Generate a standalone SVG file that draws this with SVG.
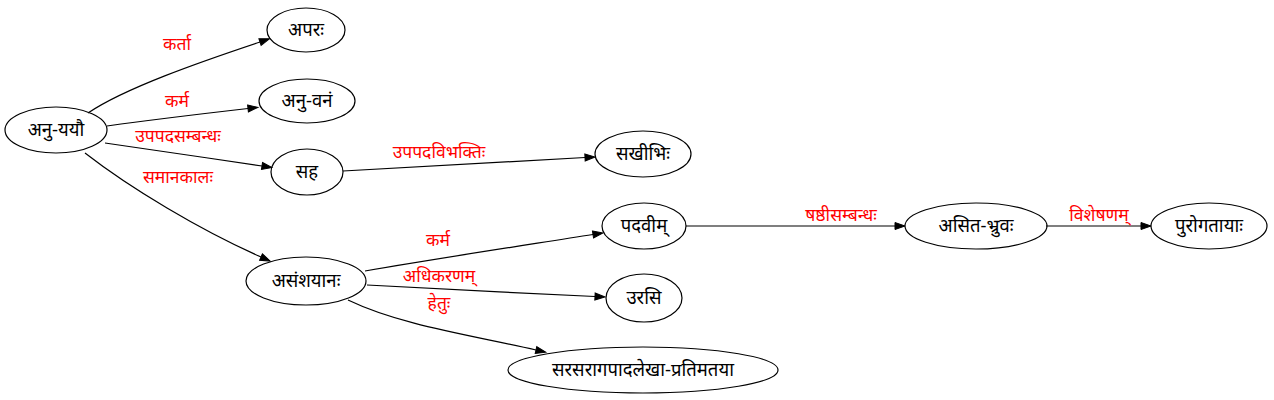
<svg xmlns="http://www.w3.org/2000/svg" width="1274" height="400" viewBox="0 0 1274 400">
<style>
.node ellipse{fill:none;stroke:#000;stroke-width:1.2}
.node text{font-family:"Noto Sans","DejaVu Sans",sans-serif;font-size:18.5px;fill:#000;text-anchor:middle}
.edge path{fill:none;stroke:#000;stroke-width:1.2}
.lbl{font-family:"Noto Sans","DejaVu Sans",sans-serif;font-size:17.5px;fill:#ff0000;text-anchor:middle}
</style>
<defs>
<marker id="ah" markerUnits="userSpaceOnUse" markerWidth="11" markerHeight="8" refX="0" refY="3.5" orient="auto" overflow="visible">
<path d="M0,0 L10,3.5 L0,7 z" fill="#000" stroke="#000" stroke-width="1"/>
</marker>
</defs>
<rect width="1274" height="400" fill="#fff"/>
<g id="edges" class="edge">
<path d="M88,113 C125,88 200,62 260,42" marker-end="url(#ah)"/>
<text class="lbl" x="177" y="50">कर्ता</text>
<path d="M107,126 C150,120 200,114 248,108.5" marker-end="url(#ah)"/>
<text class="lbl" x="177" y="107">कर्म</text>
<path d="M105,143 C150,150 210,158 262,166" marker-end="url(#ah)"/>
<text class="lbl" x="178" y="142">उपपदसम्बन्धः</text>
<path d="M85,153 C130,188 200,230 261,257" marker-end="url(#ah)"/>
<text class="lbl" x="178" y="183">समानकालः</text>
<path d="M343,171 C420,166 500,162 585,157.5" marker-end="url(#ah)"/>
<text class="lbl" x="439" y="158">उपपदविभक्तिः</text>
<path d="M365,271 C440,258 520,246 593,234.5" marker-end="url(#ah)"/>
<text class="lbl" x="438" y="246">कर्म</text>
<path d="M367,285 C440,289 520,293 595,296.5" marker-end="url(#ah)"/>
<text class="lbl" x="439" y="282">अधिकरणम्</text>
<path d="M348,300 C400,325 470,335 536,350" marker-end="url(#ah)"/>
<text class="lbl" x="439" y="309">हेतुः</text>
<path d="M686,226 L895,226" marker-end="url(#ah)"/>
<text class="lbl" x="841" y="221">षष्ठीसम्बन्धः</text>
<path d="M1046,226 L1141,226" marker-end="url(#ah)"/>
<text class="lbl" x="1099" y="221">विशेषणम्</text>
</g>
<g id="n_anuyayau" class="node"><ellipse cx="56" cy="130" rx="51" ry="23"/><text x="56" y="136">अनु-ययौ</text></g>
<g id="n_aparah" class="node"><ellipse cx="306" cy="30" rx="39" ry="22"/><text x="306" y="36">अपरः</text></g>
<g id="n_anuvanam" class="node"><ellipse cx="307" cy="101" rx="48" ry="22"/><text x="307" y="107">अनु-वनं</text></g>
<g id="n_saha" class="node"><ellipse cx="307" cy="172" rx="36" ry="23"/><text x="307" y="178">सह</text></g>
<g id="n_sakhibhih" class="node"><ellipse cx="643" cy="154" rx="48" ry="23"/><text x="643" y="160">सखीभिः</text></g>
<g id="n_asamshayanah" class="node"><ellipse cx="306" cy="281" rx="60" ry="24"/><text x="306" y="287">असंशयानः</text></g>
<g id="n_padavim" class="node"><ellipse cx="644" cy="226" rx="42" ry="23"/><text x="644" y="232">पदवीम्</text></g>
<g id="n_urasi" class="node"><ellipse cx="644" cy="298" rx="38" ry="24"/><text x="644" y="304">उरसि</text></g>
<g id="n_sarasa" class="node"><ellipse cx="643" cy="370" rx="135" ry="23"/><text x="643" y="376">सरसरागपादलेखा-प्रतिमतया</text></g>
<g id="n_asitabhruvah" class="node"><ellipse cx="976" cy="226" rx="71" ry="23"/><text x="976" y="232">असित-भ्रुवः</text></g>
<g id="n_purogatayah" class="node"><ellipse cx="1209" cy="226" rx="58" ry="23"/><text x="1209" y="232">पुरोगतायाः</text></g>
</svg>
